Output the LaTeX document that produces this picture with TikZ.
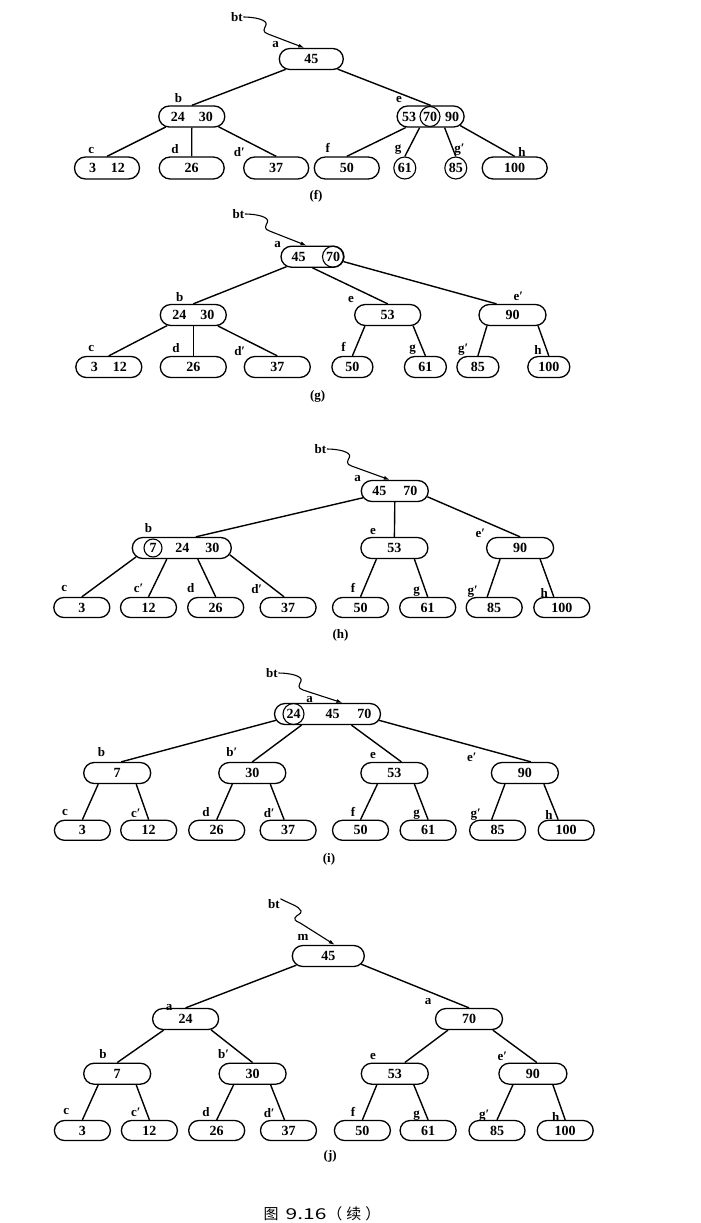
\documentclass[tikz,border=0pt]{standalone}
\usepackage{fontspec}
\setmainfont{Liberation Serif}
\newfontfamily\cjkfont{Noto Sans CJK SC}
\usepackage{tikz}
\usetikzlibrary{arrows.meta,shapes.misc}
\newcommand{\keyfont}{\fontsize{14}{14}\selectfont\bfseries}
\newcommand{\labfont}{\fontsize{13}{13}\selectfont\bfseries}

\begin{document}
\begin{tikzpicture}[x=1pt,y=-1pt,
  pill/.style={draw, rounded rectangle, line width=1.3pt, minimum width=65pt, minimum height=21pt, inner sep=0pt, font=\keyfont},
  leaf/.style={pill, minimum width=56pt, minimum height=20pt},
  ring/.style={draw, circle, line width=1.1pt, minimum size=20pt, inner sep=0pt, font=\keyfont},
  lab/.style={inner sep=0.5pt, font=\labfont},
  capt/.style={inner sep=0pt, font=\labfont},
  link/.style={line width=1.4pt},
  ptr/.style={line width=1.1pt, -{Latex[length=6pt,width=4pt]}}]
\useasboundingbox (0,0) rectangle (701,1223);

% (f)
\node[lab] (fbt) at (237,17) {bt};
\node[lab] (fla) at (275.5,45) {a};
\node[pill, minimum width=64pt] (fa) at (311.3,59) {45};
\node[lab] (flb) at (178.6,98) {b};
\node[pill, minimum width=66pt] (fb) at (191.8,116.5) {24\hspace{14pt}30};
\node[lab] (fle) at (399,100) {e};
\node[pill, minimum width=67pt] (fe) at (430.6,116.5) {53\hspace{29pt}90};
\node[ring] (fe70) at (430,116.5) {70};
\node[pill, minimum height=22pt] (fc) at (107,168) {3\hspace{15pt}12};
\node[pill, minimum height=22pt] (fd) at (191.7,168) {26};
\node[pill, minimum height=22pt] (fdd) at (276.2,168) {37};
\node[pill, minimum height=22pt] (ff) at (346.8,168) {50};
\node[ring, minimum size=22pt] (fg) at (404.8,168) {61};
\node[ring, minimum size=22pt] (fgg) at (455.8,168) {85};
\node[pill, minimum height=22pt] (fh) at (514.7,168) {100};
\node[lab] (flc) at (91.3,150) {c};
\node[lab] (fld) at (174.9,149.3) {d};
\node[lab] (fldd) at (239.3,151.7) {d′};
\node[lab] (flf) at (327.7,147.7) {f};
\node[lab] (flg) at (398,150) {g};
\node[lab] (flgg) at (459.5,150) {g′};
\node[lab] (flh) at (522.1,151.7) {h};
\draw[ptr] (fbt.east) .. controls (255,17) and (268,20) .. (266,25) .. controls (264,29) and (262,32) .. (268,34) -- ([xshift=-7pt]fa.north);
\draw[link] (fa.202) -- (fb.north);
\draw[link] (fa.-21) -- (fe.north);
\draw[link] (fb.202) -- (fc.north);
\draw[link] (fb.south) -- (fd.north);
\draw[link] (fb.-21) -- (fdd.north);
\draw[link] (fe.204) -- (ff.north);
\draw[link] ([xshift=-11pt]fe.south) -- (fg.north);
\draw[link] ([xshift=14pt]fe.south) -- (fgg.north);
\draw[link] (fe.-17) -- (fh.north);
\node[capt] (fcap) at (316,196.7) {(f)};

% (g)
\node[lab] (gbt) at (238.5,214) {bt};
\node[lab] (gla) at (277.5,245) {a};
\node[pill, minimum width=63pt] (ga) at (312.5,256.7) {45\hspace{28pt}\null};
\node[ring, minimum size=21pt] (ga70) at (333,256.7) {70};
\node[lab] (glb) at (179.7,296.7) {b};
\node[pill, minimum width=66pt] (gb) at (193.3,315) {24\hspace{14pt}30};
\node[lab] (gle) at (350.9,300) {e};
\node[pill, minimum width=66pt] (ge) at (387.7,315) {53};
\node[lab] (glee) at (518.4,296.7) {e′};
\node[pill, minimum width=67pt] (gee) at (512.5,315) {90};
\node[pill, minimum width=66pt] (gc) at (108.8,367) {3\hspace{15pt}12};
\node[pill, minimum width=66pt] (gd) at (193.3,367) {26};
\node[pill, minimum width=66pt] (gdd) at (277.3,367) {37};
\node[pill, minimum width=41pt] (gf) at (352.4,367) {50};
\node[pill, minimum width=42pt] (gg) at (425.4,367) {61};
\node[pill, minimum width=42pt] (ggg) at (477.9,367) {85};
\node[pill, minimum width=42pt] (gh) at (548.8,367) {100};
\node[lab] (glc) at (91.3,348.3) {c};
\node[lab] (gld) at (176,348.3) {d};
\node[lab] (gldd) at (239.7,350.7) {d′};
\node[lab] (glf) at (343.5,346.7) {f};
\node[lab] (glg) at (412.7,349.3) {g};
\node[lab] (glgg) at (463.2,349.3) {g′};
\node[lab] (glh) at (537.9,350) {h};
\draw[ptr] (gbt.east) .. controls (256.5,214) and (269.5,217) .. (267.5,222) .. controls (265.5,226) and (263.5,229) .. (269.5,231) -- ([xshift=-6pt]ga.north);
\draw[link] (ga.201) -- (gb.north);
\draw[link] (ga.south) -- (ge.north);
\draw[link] (ga.-9) -- ([xshift=-16pt]gee.north);
\draw[link] (gb.202) -- (gc.north);
\draw[link] (gb.south) -- (gd.north);
\draw[link] (gb.-24) -- (gdd.north);
\draw[link] (ge.206) -- (gf.north);
\draw[link] (ge.-23) -- (gg.north);
\draw[link] (gee.203) -- (ggg.north);
\draw[link] (gee.-23) -- (gh.north);
\node[capt] (gcap) at (317.7,396.7) {(g)};

% (h)
\node[lab] (hbt) at (320.5,449) {bt};
\node[lab] (hla) at (357.6,478.3) {a};
\node[pill, minimum width=67pt] (ha) at (394.8,491) {45\hspace{17pt}70};
\node[lab] (hlb) at (148.5,528.3) {b};
\node[pill, minimum width=99pt] (hb) at (181.8,548) {\hspace{31pt}24\hspace{16pt}30};
\node[ring, minimum size=18pt] (hb7) at (153,548) {7};
\node[lab] (hle) at (372.9,531) {e};
\node[pill, minimum width=67pt] (he) at (394.4,548) {53};
\node[lab] (hlee) at (480.3,533.3) {e′};
\node[pill, minimum width=67pt] (hee) at (520.1,548) {90};
\node[leaf] (hc) at (81.8,607.5) {3};
\node[leaf] (hcc) at (148.5,607.5) {12};
\node[leaf] (hd) at (215.7,607.5) {26};
\node[leaf] (hdd) at (288.1,607.5) {37};
\node[leaf] (hf) at (360.5,607.5) {50};
\node[leaf] (hg) at (427.7,607.5) {61};
\node[leaf] (hgg) at (494.2,607.5) {85};
\node[leaf] (hh) at (561.8,607.5) {100};
\node[lab] (hlc) at (64.3,588.3) {c};
\node[lab] (hlcc) at (138.6,588.3) {c′};
\node[lab] (hld) at (190.8,588.3) {d};
\node[lab] (hldd) at (256.7,589.3) {d′};
\node[lab] (hlf) at (353,588.3) {f};
\node[lab] (hlg) at (416.7,591.7) {g};
\node[lab] (hlgg) at (472.7,591.7) {g′};
\node[lab] (hlh) at (544.3,592.7) {h};
\draw[ptr] (hbt.east) .. controls (338.5,449) and (351.5,452) .. (349.5,457) .. controls (347.5,461) and (345.5,464) .. (351.5,466) -- ([xshift=-5pt]ha.north);
\draw[link] (ha.192) -- ([xshift=14pt]hb.north);
\draw[link] (ha.south) -- (he.north);
\draw[link] (ha.-10) -- (hee.north);
\draw[link] (hb.191) -- (hc.north);
\draw[link] ([xshift=-15pt]hb.south) -- (hcc.north);
\draw[link] ([xshift=16pt]hb.south) -- (hd.north);
\draw[link] (hb.-8) -- ([xshift=-4pt]hdd.north);
\draw[link] ([xshift=-18pt]he.south) -- (hf.north);
\draw[link] ([xshift=20pt]he.south) -- (hg.north);
\draw[link] ([xshift=-20pt]hee.south) -- ([xshift=-7pt]hgg.north);
\draw[link] ([xshift=20pt]hee.south) -- ([xshift=-8pt]hh.north);
\node[capt] (hcap) at (340.5,635) {(h)};

% (i)
\node[lab] (ibt) at (271.9,673) {bt};
\node[lab] (ila) at (309.5,699.5) {a};
\node[pill, minimum width=106pt] (ia) at (327.5,714) {\hspace{42pt}45\hspace{18pt}70};
\node[ring, minimum size=21pt] (ia24) at (293.5,714) {24};
\node[lab] (ilb) at (101.6,751.7) {b};
\node[pill, minimum width=67pt] (ib) at (117.2,773) {7};
\node[lab] (ilbb) at (231.9,751.7) {b′};
\node[pill, minimum width=67pt] (ibb) at (252.3,773) {30};
\node[lab] (ile) at (372.9,755) {e};
\node[pill, minimum width=67pt] (ie) at (394.4,773) {53};
\node[lab] (ilee) at (471.9,757.3) {e′};
\node[pill, minimum width=67pt] (iee) at (524.9,773) {90};
\node[leaf] (ic) at (82.4,830.3) {3};
\node[leaf] (icc) at (148.7,830.3) {12};
\node[leaf] (id) at (216.7,830.3) {26};
\node[leaf] (idd) at (288.1,830.3) {37};
\node[leaf] (if) at (360.5,830.3) {50};
\node[leaf] (ig) at (428.1,830.3) {61};
\node[leaf] (igg) at (497.6,830.3) {85};
\node[leaf] (ih) at (566.2,830.3) {100};
\node[lab] (ilc) at (65,812.7) {c};
\node[lab] (ilcc) at (135.9,813.3) {c′};
\node[lab] (ild) at (206,811.7) {d};
\node[lab] (ildd) at (269.2,813.3) {d′};
\node[lab] (ilf) at (353,811.7) {f};
\node[lab] (ilg) at (416.7,815) {g};
\node[lab] (ilgg) at (475.7,815) {g′};
\node[lab] (ilh) at (548.9,815) {h};
\draw[ptr] (ibt.east) .. controls (290,673) and (303,676) .. (301,681) .. controls (299,685) and (297,688) .. (303,690) -- ([xshift=15pt]ia.north);
\draw[link] (ia.187) -- ([xshift=4pt]ib.north);
\draw[link] ([xshift=-26pt]ia.south) -- (ibb.north);
\draw[link] ([xshift=24pt]ia.south) -- ([xshift=7pt]ie.north);
\draw[link] (ia.-7) -- ([xshift=6pt]iee.north);
\draw[link] ([xshift=-19pt]ib.south) -- (ic.north);
\draw[link] ([xshift=19pt]ib.south) -- (icc.north);
\draw[link] ([xshift=-20pt]ibb.south) -- (id.north);
\draw[link] ([xshift=18pt]ibb.south) -- ([xshift=-4pt]idd.north);
\draw[link] ([xshift=-17pt]ie.south) -- (if.north);
\draw[link] ([xshift=20pt]ie.south) -- (ig.north);
\draw[link] ([xshift=-20pt]iee.south) -- ([xshift=-6pt]igg.north);
\draw[link] ([xshift=19pt]iee.south) -- ([xshift=-8pt]ih.north);
\node[capt] (icap) at (329,859.3) {(i)};

% (j)
\node[lab] (jbt) at (274,904) {bt};
\node[lab] (jlm) at (303,937) {m};
\node[pill, minimum width=72pt] (jm) at (328.3,956) {45};
\node[lab] (jla) at (169,1007.3) {a};
\node[pill, minimum width=66pt] (ja) at (185.6,1019) {24};
\node[lab] (jlar) at (428.1,1001.7) {a};
\node[pill, minimum width=67pt] (jar) at (469,1019) {70};
\node[lab] (jlb) at (103.1,1054) {b};
\node[pill, minimum width=67pt] (jb) at (117.2,1073.7) {7};
\node[lab] (jlbb) at (223.5,1054) {b′};
\node[pill, minimum width=67pt] (jbb) at (252.6,1073.7) {30};
\node[lab] (jle) at (372.9,1056) {e};
\node[pill, minimum width=67pt] (je) at (394.8,1073.7) {53};
\node[lab] (jlee) at (502.4,1056.7) {e′};
\node[pill, minimum width=68pt] (jee) at (532.9,1073.7) {90};
\node[leaf] (jc) at (82.4,1130.5) {3};
\node[leaf] (jcc) at (149.4,1130.5) {12};
\node[leaf] (jd) at (216.7,1130.5) {26};
\node[leaf] (jdd) at (288.5,1130.5) {37};
\node[leaf] (jf) at (362.4,1130.5) {50};
\node[leaf] (jg) at (428.1,1130.5) {61};
\node[leaf] (jgg) at (497,1130.5) {85};
\node[leaf] (jh) at (565.2,1130.5) {100};
\node[lab] (jlc) at (66.2,1111.7) {c};
\node[lab] (jlcc) at (135.9,1112.7) {c′};
\node[lab] (jld) at (206,1111.7) {d};
\node[lab] (jldd) at (269.2,1112.7) {d′};
\node[lab] (jlf) at (353,1111.7) {f};
\node[lab] (jlg) at (416.7,1116) {g};
\node[lab] (jlgg) at (484.1,1116) {g′};
\node[lab] (jlh) at (555.7,1116.7) {h};
\draw[ptr] (jbt.north east) .. controls (290,904) and (299,906) .. (301,911) .. controls (302,914) and (296,915) .. (295,918) .. controls (294,921) and (298,921.5) .. (301,923.5) -- ([xshift=6.5pt]jm.north);
\draw[link] (jm.196) -- (ja.north);
\draw[link] (jm.-14) -- (jar.north);
\draw[link] ([xshift=-22pt]ja.south) -- (jb.north);
\draw[link] (ja.-23) -- (jbb.north);
\draw[link] ([xshift=-21pt]jar.south) -- ([xshift=10pt]je.north);
\draw[link] (jar.-25) -- ([xshift=4pt]jee.north);
\draw[link] ([xshift=-19pt]jb.south) -- (jc.north);
\draw[link] ([xshift=19pt]jb.south) -- (jcc.north);
\draw[link] ([xshift=-19pt]jbb.south) -- (jd.north);
\draw[link] ([xshift=18pt]jbb.south) -- ([xshift=-4pt]jdd.north);
\draw[link] ([xshift=-18pt]je.south) -- (jf.north);
\draw[link] ([xshift=19pt]je.south) -- (jg.north);
\draw[link] ([xshift=-20pt]jee.south) -- (jgg.north);
\draw[link] ([xshift=20pt]jee.south) -- (jh.north);
\node[capt] (jcap) at (330.2,1156.7) {(j)};

\node[inner sep=0pt, font=\cjkfont\fontsize{15}{15}\selectfont] (figcap) at (322,1213.5) {图\hspace{7pt}\scalebox{1.4}[1]{9.16}\hspace{1pt}（\hspace{4pt}续\hspace{4pt}）};
\end{tikzpicture}
\end{document}
